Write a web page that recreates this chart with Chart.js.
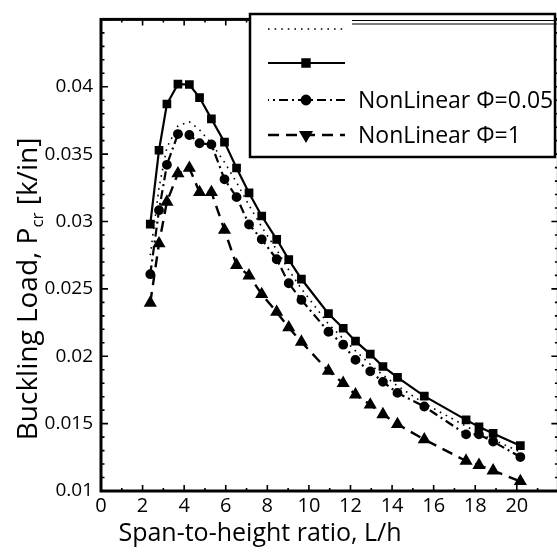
<!DOCTYPE html>
<html>
<head>
<meta charset="utf-8">
<title>Buckling load vs span-to-height ratio</title>
<script src="https://cdn.jsdelivr.net/npm/chart.js@4.4.1/dist/chart.umd.min.js"></script>
<style>
  html, body { margin: 0; padding: 0; background: #fff; overflow: hidden; }
  #wrap { position: relative; width: 566px; height: 554px; }
</style>
</head>
<body>
<div id="wrap"><canvas id="plot"></canvas></div>
<script>
// L/h values shared by all four curves
const spanRatio = [2.37, 2.79, 3.17, 3.70, 4.25, 4.74, 5.31, 5.94, 6.52, 7.12, 7.73, 8.45, 9.03,
  9.64, 10.94, 11.65, 12.24, 12.95, 13.56, 14.26, 15.55, 17.56, 18.18, 18.86, 20.17];

// buckling load Pcr [k/in]
const dottedLoad = [0.0275, 0.0325, 0.0355, 0.0371, 0.0374, 0.0368, 0.0358, 0.0344, 0.0329, 0.0312,
  0.0296, 0.0279, 0.0264, 0.0250, 0.0224, 0.0213, 0.0204, 0.0194, 0.0186, 0.0178, 0.0165, 0.0148,
  0.0143, 0.0138, 0.0129];
const squareLoad = [0.02981, 0.03529, 0.03872, 0.04019, 0.04017, 0.0392, 0.03762, 0.03589, 0.03397,
  0.03212, 0.03041, 0.02868, 0.02717, 0.02573, 0.02316, 0.02208, 0.02112, 0.02016, 0.01924, 0.01843,
  0.01704, 0.01528, 0.01476, 0.01427, 0.01336];
const circleLoad = [0.02609, 0.03084, 0.03421, 0.03649, 0.03642, 0.03581, 0.03572, 0.03313, 0.03181,
  0.02978, 0.02868, 0.0272, 0.02542, 0.02418, 0.02182, 0.02086, 0.01973, 0.01888, 0.0181, 0.01728,
  0.01627, 0.0142, 0.0142, 0.01367, 0.01252];
const triangleLoad = [0.02396, 0.02837, 0.03146, 0.03356, 0.03397, 0.03217, 0.03217, 0.02937, 0.02676,
  0.02598, 0.0246, 0.02328, 0.02213, 0.02106, 0.01891, 0.018, 0.01715, 0.0164, 0.01569, 0.01495,
  0.01382, 0.01223, 0.01192, 0.01151, 0.01072];

// first two legend entries carry no text in the figure
const seriesLabels = ['', '', 'NonLinear \u03A6=0.05', 'NonLinear \u03A6=1'];

const X_MIN = 0, X_MAX = 22, X_LAST_LABEL = 20;
const Y_MIN = 0.01, Y_MAX = 0.045;
const FONT = '"Open Sans", "Noto Sans", sans-serif';

const toPoints = (ys) => spanRatio.map((x, i) => ({ x, y: ys[i] }));

// inward ticks on all four sides + heavy frame
const frameTicks = {
  id: 'frameTicks',
  afterDatasetsDraw(chart) {
    const { ctx, chartArea: a, scales: { x, y } } = chart;
    ctx.save();
    ctx.strokeStyle = '#000';
    ctx.lineWidth = 1.6;
    ctx.beginPath();
    for (let v = X_MIN; v <= X_MAX; v += 1) {
      const px = x.getPixelForValue(v);
      const len = v % 2 === 0 ? 6 : 3;
      ctx.moveTo(px, a.bottom); ctx.lineTo(px, a.bottom - len);
      ctx.moveTo(px, a.top); ctx.lineTo(px, a.top + len);
    }
    for (let i = 0; i <= 35; i++) {
      const py = y.getPixelForValue(Y_MIN + i * 0.001);
      const len = i % 5 === 0 ? 7 : 3.5;
      ctx.moveTo(a.left, py); ctx.lineTo(a.left + len, py);
      ctx.moveTo(a.right, py); ctx.lineTo(a.right - len, py);
    }
    ctx.stroke();
    ctx.lineWidth = 3;
    ctx.strokeRect(a.left, a.top, a.right - a.left, a.bottom - a.top);
    ctx.restore();
  }
};

// boxed legend in the upper right corner
const boxLegend = {
  id: 'boxLegend',
  afterDraw(chart) {
    const ctx = chart.ctx;
    const rows = [29, 63, 100, 135];
    ctx.save();
    ctx.fillStyle = '#fff';
    ctx.fillRect(250, 14, 305, 143);
    ctx.strokeStyle = '#000';
    ctx.lineWidth = 2.5;
    ctx.strokeRect(250, 14, 305, 143);
    // leftover rules where the first label sat
    ctx.lineWidth = 1.2;
    ctx.beginPath();
    ctx.moveTo(352, 20.5); ctx.lineTo(557, 20.5);
    ctx.moveTo(352, 24); ctx.lineTo(557, 24);
    ctx.stroke();

    chart.data.datasets.forEach((ds, i) => {
      const ry = rows[i];
      ctx.setLineDash(ds.borderDash || []);
      ctx.lineDashOffset = ds.legendDashOffset || 0;
      ctx.lineWidth = ds.borderWidth;
      ctx.beginPath();
      ctx.moveTo(268, ry); ctx.lineTo(345, ry);
      ctx.stroke();
      ctx.setLineDash([]);
      if (ds.pointRadius > 0) {
        ctx.fillStyle = '#000';
        Chart.helpers.drawPoint(ctx, {
          pointStyle: ds.pointStyle, radius: ds.pointRadius + 0.5,
          rotation: ds.legendRotation || 0, borderWidth: 1
        }, 306, ry);
      }
      if (ds.label) {
        ctx.fillStyle = '#000';
        ctx.font = '23px ' + FONT;
        ctx.textAlign = 'left';
        ctx.textBaseline = 'middle';
        ctx.fillText(ds.label, 358, ry + 1);
      }
    });
    ctx.restore();
  }
};

// axis titles, y title with a subscript
const axisTitles = {
  id: 'axisTitles',
  afterDraw(chart) {
    const ctx = chart.ctx;
    ctx.save();
    ctx.fillStyle = '#000';
    ctx.textBaseline = 'alphabetic';
    ctx.font = '25px ' + FONT;
    ctx.textAlign = 'center';
    ctx.fillText('Span-to-height ratio, L/h', 260, 541);

    const main = '28px ' + FONT, sub = '17px ' + FONT;
    const parts = [['Buckling Load, P', main, 0], ['cr', sub, 6], [' [k/in]', main, 0]];
    let total = 0;
    parts.forEach(p => { ctx.font = p[1]; total += ctx.measureText(p[0]).width; });
    ctx.translate(37, 289);
    ctx.rotate(-Math.PI / 2);
    ctx.textAlign = 'left';
    let cx = -total / 2;
    parts.forEach(p => {
      ctx.font = p[1];
      ctx.fillText(p[0], cx, p[2]);
      cx += ctx.measureText(p[0]).width;
    });
    ctx.restore();
  }
};

new Chart(document.getElementById('plot').getContext('2d'), {
  type: 'line',
  data: {
    datasets: [
      {
        label: seriesLabels[0], data: toPoints(dottedLoad),
        borderColor: '#000', backgroundColor: '#000', borderWidth: 1.6,
        borderDash: [1.6, 5], pointRadius: 0, legendDashOffset: 0
      },
      {
        label: seriesLabels[1], data: toPoints(squareLoad),
        borderColor: '#000', backgroundColor: '#000', borderWidth: 2.2,
        pointStyle: 'rect', pointRadius: 4.6
      },
      {
        label: seriesLabels[2], data: toPoints(circleLoad),
        borderColor: '#000', backgroundColor: '#000', borderWidth: 2.2,
        borderDash: [9, 4, 2, 4], legendDashOffset: 8,
        pointStyle: 'circle', pointRadius: 3.8
      },
      {
        label: seriesLabels[3], data: toPoints(triangleLoad),
        borderColor: '#000', backgroundColor: '#000', borderWidth: 2.4,
        borderDash: [11, 7], legendDashOffset: 0, legendRotation: 180,
        pointStyle: 'triangle', pointRadius: 5.2
      }
    ]
  },
  options: {
    responsive: true,
    maintainAspectRatio: false,
    animation: false,
    layout: { padding: { top: 5, right: 4.3, left: 0, bottom: 0 } },
    elements: { line: { tension: 0 }, point: { borderWidth: 1 } },
    plugins: { legend: { display: false }, tooltip: { enabled: false } },
    scales: {
      x: {
        type: 'linear', min: X_MIN, max: X_MAX,
        afterFit: (s) => { s.height = 63; },
        grid: { display: false, drawTicks: false },
        border: { display: false },
        ticks: {
          stepSize: 2, padding: 3, color: '#000', maxRotation: 0, autoSkip: false,
          font: { family: FONT, size: 20 },
          callback: (v) => (v <= X_LAST_LABEL ? String(v) : '')
        }
      },
      y: {
        type: 'linear', min: Y_MIN, max: Y_MAX,
        afterFit: (s) => { s.width = 101; },
        grid: { display: false, drawTicks: false },
        border: { display: false },
        ticks: {
          stepSize: 0.005, padding: 8, color: '#000', autoSkip: false,
          font: { family: FONT, size: 19 },
          callback: (v) => (v > 0.0449 ? '' : String(Number(v.toFixed(3))))
        }
      }
    }
  },
  plugins: [frameTicks, boxLegend, axisTitles]
});
</script>
</body>
</html>
